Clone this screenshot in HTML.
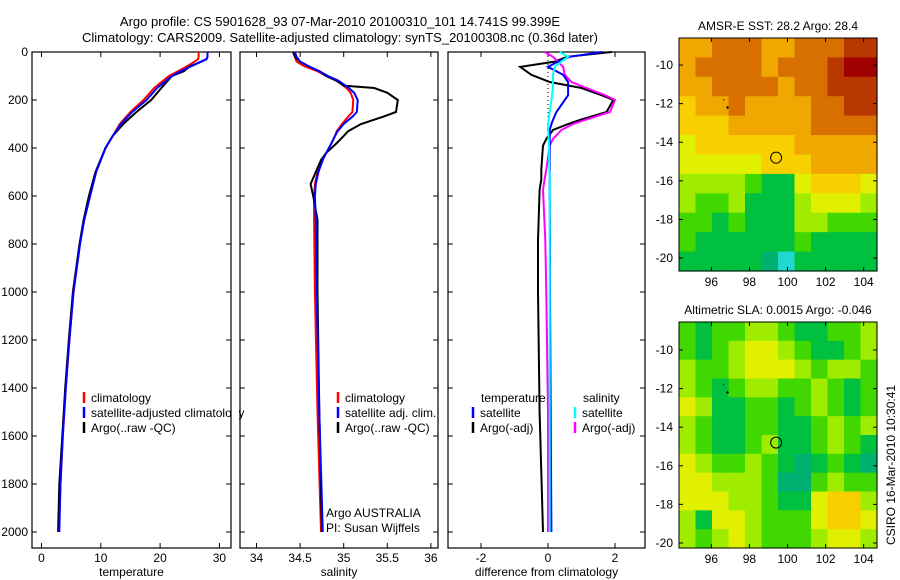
<!DOCTYPE html>
<html><head><meta charset="utf-8"><style>
html,body{margin:0;padding:0;background:#fff;width:900px;height:580px;overflow:hidden}
svg{display:block;font-family:"Liberation Sans",sans-serif}
text{font-size:12px;fill:#000}
</style></head><body>
<svg id="c" width="900" height="580">
<text x="340" y="26" text-anchor="middle" style="font-size:13px">Argo profile: CS 5901628_93 07-Mar-2010 20100310_101 14.741S 99.399E</text>
<text x="340" y="42" text-anchor="middle" style="font-size:13px">Climatology: CARS2009. Satellite-adjusted climatology: synTS_20100308.nc (0.36d later)</text>
</svg>
<script>
// ---- data ----
const tDepth=[0,20,30,45,60,80,100,150,200,250,300,350,400,500,600,700,800,1000,1200,1400,1600,1800,2000];
const tClim=[26.5,26.5,26.4,25.5,24.5,23,21.5,19,17.2,15,13.2,12,10.8,9.2,8.2,7.2,6.5,5.4,4.7,4.1,3.6,3.2,2.9];
const tSat=[28,28,27.8,26.5,25.2,23.5,22,19.5,17.7,15.3,13.4,12,10.8,9.2,8.2,7.2,6.5,5.4,4.7,4.1,3.6,3.2,3.0];
const tArgo=[28,28,27.8,26.5,25,24,22,20.2,18.5,16,13.8,12,10.8,9.1,8.0,7.1,6.4,5.3,4.6,4.0,3.5,3.0,2.8];
const sDepth=[0,20,40,60,80,100,120,140,150,170,200,250,270,300,330,350,380,420,450,500,550,600,700,1000,1500,2000];
const sClim=[34.43,34.44,34.46,34.55,34.7,34.8,34.92,35.0,35.03,35.08,35.11,35.1,35.05,34.98,34.92,34.9,34.86,34.8,34.75,34.7,34.67,34.66,34.66,34.67,34.7,34.74];
const sSat=[34.44,34.46,34.5,34.6,34.72,34.82,34.94,35.02,35.06,35.12,35.16,35.15,35.1,35.0,34.93,34.9,34.86,34.8,34.76,34.71,34.68,34.67,34.68,34.69,34.72,34.76];
const sArgo=[34.42,34.44,34.5,34.6,34.72,34.8,34.92,35.0,35.35,35.5,35.62,35.6,35.45,35.2,35.05,35.0,34.92,34.8,34.74,34.68,34.62,34.65,34.7,34.7,34.72,34.75];
const dDepth=[0,20,40,62,95,125,150,180,200,250,283,300,325,362,390,490,530,575,785,1000,1500,2000];
const dTArgo=[1.9,0.57,0.2,-0.83,-0.5,0.05,1.0,1.6,1.95,1.75,0.95,0.6,0.15,-0.05,-0.15,-0.2,-0.2,-0.25,-0.3,-0.3,-0.25,-0.15];
const dSArgo=[-0.1,0.15,0.3,0.45,0.5,0.7,1.15,1.7,2.0,1.85,1.1,0.75,0.4,0.15,0.05,-0.05,-0.1,-0.15,-0.08,-0.05,0.0,0.0];
const dTSat=[1.6,0.65,0.3,0.0,0.45,0.6,0.6,0.6,0.5,0.25,0.15,0.1,0.05,0.05,0.05,0.05,0.05,0.05,0.06,0.06,0.08,0.1];
const dSSat=[0.35,0.6,0.4,0.2,0.15,0.15,0.15,0.12,0.1,0.05,0.02,0.0,0.0,0.02,0.03,0.04,0.05,0.05,0.05,0.05,0.05,0.05];
const depthTicks=[0,200,400,600,800,1000,1200,1400,1600,1800,2000];
const tTicks=[0,10,20,30], sTicks=[34,34.5,35,35.5,36], dTicks=[-2,0,2];
const lonTicks=[96,98,100,102,104], latTicks=[-10,-12,-14,-16,-18,-20];
const palette=['#20d8d0','#00b070','#00c040','#40d800','#a0ec00','#e0f000','#f8d000','#f0a800','#d87000','#b83800','#a00000'];
const sstGrid=["778887788899a","7888878889aa","778888788999","677877778899","666777778888","566666677777","555556667777","444432256665","433422245554","332322244333","322222232222","222221022222"];
const slaGrid=["323344322334","323455432234","433455543443","432344334323","542233234323","432233223434","432234223432","543343212321","554443113433","555443225664","425543335665","434543334554"];
// ---- helpers ----
const svg=document.getElementById('c');const NS='http://www.w3.org/2000/svg';
function el(tag,attrs,parent){const e=document.createElementNS(NS,tag);for(const k in attrs)e.setAttribute(k,attrs[k]);(parent||svg).appendChild(e);return e;}
const Y0=52,YPX=0.24; const yD=d=>Y0+d*YPX; const BOT=548;
function panel(name,x0,x1,ticks,xf,label,lblFmt){
  const g=el('g',{});
  el('rect',{x:x0,y:Y0,width:x1-x0,height:BOT-Y0,fill:'none',stroke:'#000','stroke-width':1.2},g);
  ticks.forEach(t=>{const x=xf(t);el('line',{x1:x,x2:x,y1:BOT,y2:BOT-5,stroke:'#000'},g);el('line',{x1:x,x2:x,y1:Y0,y2:Y0+5,stroke:'#000'},g);
    const tx=el('text',{x:x,y:562,'text-anchor':'middle'},g);tx.textContent=lblFmt(t);});
  depthTicks.forEach(d=>{const y=yD(d);el('line',{x1:x0,x2:x0+5,y1:y,y2:y,stroke:'#000'},g);el('line',{x1:x1,x2:x1-5,y1:y,y2:y,stroke:'#000'},g);});
  const l=el('text',{x:(x0+x1)/2,y:576,'text-anchor':'middle'},g);l.textContent=label;
  return g;
}
function line(g,xs,ds,xf,color,name,w){const p=xs.map((v,i)=>xf(v).toFixed(1)+','+yD(ds[i]).toFixed(1)).join(' ');
  const e=el('polyline',{points:p,fill:'none',stroke:color,'stroke-width':w||2},g);}
function legend(g,x,y,color,txt,name){el('line',{x1:x,x2:x,y1:y-10,y2:y+1,stroke:color,'stroke-width':2.5},g);const t=el('text',{x:x+7,y:y},g);t.textContent=txt;}
depthTicks.forEach(d=>{const t=el('text',{x:28,y:yD(d)+4,'text-anchor':'end'});t.textContent=d;});
// panel 1
const xT=v=>41.5+v*5.93;
const p1=panel('temperature-panel',32,231,tTicks,xT,'temperature',t=>t);
line(p1,tClim,tDepth,xT,'#f00','temperature-climatology-line');
line(p1,tArgo,tDepth,xT,'#000','temperature-argo-line');
line(p1,tSat,tDepth,xT,'#00f','temperature-satellite-line');
legend(p1,84,402,'#f00','climatology','legend-climatology');
legend(p1,84,417,'#00f','satellite-adjusted climatology','legend-satellite-adjusted');
legend(p1,84,432,'#000','Argo(..raw -QC)','legend-argo-raw');
// panel 2
const xS=v=>256.5+(v-34)*87.2;
el('rect',{x:232,y:405,width:7,height:15,fill:'#fff'});
const p2=panel('salinity-panel',240,438,sTicks,xS,'salinity',t=>t);
line(p2,sClim,sDepth,xS,'#f00','salinity-climatology-line');
line(p2,sArgo,sDepth,xS,'#000','salinity-argo-line');
line(p2,sSat,sDepth,xS,'#00f','salinity-satellite-line');
legend(p2,338,402,'#f00','climatology','legend-sal-climatology');
legend(p2,338,417,'#00f','satellite adj. clim.','legend-sal-satellite');
legend(p2,338,432,'#000','Argo(..raw -QC)','legend-sal-argo');
const a1=el('text',{x:326,y:517});a1.textContent='Argo AUSTRALIA';
const a2=el('text',{x:326,y:532});a2.textContent='PI: Susan Wijffels';
// panel 3
const xDf=v=>548+v*33.5;
const p3=panel('difference-panel',448,645,dTicks,xDf,'difference from climatology',t=>t);
el('line',{x1:548,x2:548,y1:Y0,y2:130,stroke:'#000','stroke-dasharray':'1,3'},p3);
line(p3,dTArgo,dDepth,xDf,'#000','diff-temperature-argo-line');
line(p3,dSArgo,dDepth,xDf,'#f0f','diff-salinity-argo-line');
line(p3,dTSat,dDepth,xDf,'#00f','diff-temperature-satellite-line');
line(p3,dSSat,dDepth,xDf,'#0ff','diff-salinity-satellite-line');
const lt=el('text',{x:481,y:402},p3);lt.textContent='temperature';
const ls=el('text',{x:583,y:402},p3);ls.textContent='salinity';
legend(p3,473,417,'#00f','satellite','legend-diff-temp-sat');
legend(p3,473,432,'#000','Argo(-adj)','legend-diff-temp-argo');
legend(p3,575,417,'#0ff','satellite','legend-diff-sal-sat');
legend(p3,575,432,'#f0f','Argo(-adj)','legend-diff-sal-argo');
// maps
const LON0=94.3,LON1=104.7;
function map(name,y0,y1,lat0,lat1,grid,title){
  const x0=679,x1=877;const g=el('g',{});
  const xf=lo=>x0+(lo-LON0)/(LON1-LON0)*(x1-x0), yf=la=>y0+(la-lat0)/(lat1-lat0)*(y1-y0);
  const rows=grid.length, cols=12, cw=(x1-x0)/cols, ch=(y1-y0)/rows;
  grid.forEach((r,i)=>{for(let j=0;j<cols;j++){const v=parseInt(r[j],16);
    const c=el('rect',{x:x0+j*cw,y:y0+i*ch,width:cw+0.6,height:ch+0.6,fill:palette[Math.min(v,10)]},g);
    }});
  el('rect',{x:x0,y:y0,width:x1-x0,height:y1-y0,fill:'none',stroke:'#000'},g);
  lonTicks.forEach(lo=>{const x=xf(lo);el('line',{x1:x,x2:x,y1:y1,y2:y1-4,stroke:'#000'},g);el('line',{x1:x,x2:x,y1:y0,y2:y0+4,stroke:'#000'},g);const t=el('text',{x:x,y:y1+15,'text-anchor':'middle'},g);t.textContent=lo;});
  latTicks.forEach(la=>{const y=yf(la);el('line',{x1:x0,x2:x0+4,y1:y,y2:y,stroke:'#000'},g);el('line',{x1:x1,x2:x1-4,y1:y,y2:y,stroke:'#000'},g);const t=el('text',{x:x0-6,y:y+4,'text-anchor':'end'},g);t.textContent=la;});
  el('circle',{cx:xf(99.4),cy:yf(-14.8),r:5.5,fill:'none',stroke:'#000'},g);
  el('circle',{cx:xf(96.85),cy:yf(-12.2),r:1.2,fill:'#000'},g);
  el('circle',{cx:xf(96.65),cy:yf(-11.8),r:0.6,fill:'#000'},g);
  const t=el('text',{x:(x0+x1)/2,y:y0-8,'text-anchor':'middle'},g);t.textContent=title;
}
map('sst-map',38,271,-8.6,-20.67,sstGrid,'AMSR-E SST: 28.2 Argo: 28.4');
map('sla-map',322,548,-8.55,-20.26,slaGrid,'Altimetric SLA: 0.0015 Argo: -0.046');
const cs=el('text',{x:0,y:0,transform:'translate(895,545) rotate(-90)'});cs.textContent='CSIRO 16-Mar-2010 10:30:41';

</script>
</body></html>
